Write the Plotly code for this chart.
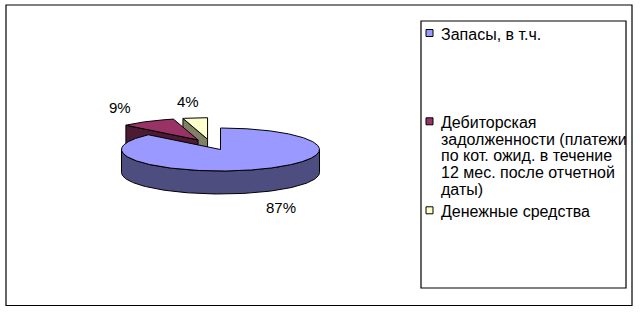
import numpy as np
import plotly.graph_objects as go

# ---------------- data ----------------
categories = [
    "Запасы, в т.ч.",
    "Дебиторская задолженности (платежи по кот. ожид. в течение 12 мес. после отчетной даты)",
    "Денежные средства",
]
legend_lines = [
    ["Запасы, в т.ч."],
    ["Дебиторская", "задолженности (платежи", "по кот. ожид. в течение",
     "12 мес. после отчетной", "даты)"],
    ["Денежные средства"],
]
values = [87, 9, 4]
top_colors = ["#9999FF", "#993366", "#FFFFCC"]
side_colors = ["#4D4D80", "#4D1A33", "#808066"]

# ---------------- layout geometry (pixels) ----------------
W, H = 640, 312
RX, RY = 99.0, 21.5
DEPTH = 23.0
EXPLODE = 0.25
MAIN_APEX = (220.5, 149.5)
FONT = "Arial, Liberation Sans"
LABEL_SIZE = 15
LEGEND_SIZE = 16

total = float(sum(values))
fracs = [v / total for v in values]
starts = np.concatenate([[0.0], np.cumsum(fracs)[:-1]]) * 360.0
ends = np.cumsum(fracs) * 360.0
mids = (starts + ends) / 2.0


def dirv(theta_deg):
    t = np.radians(theta_deg)
    return np.sin(t) * RX, -np.cos(t) * RY


# true centre derived so that the largest slice's apex sits at MAIN_APEX
dx0, dy0 = dirv(mids[0])
CX, CY = MAIN_APEX[0] - EXPLODE * dx0, MAIN_APEX[1] - EXPLODE * dy0

fig = go.Figure()


def poly(xs, ys, fill):
    fig.add_trace(go.Scatter(
        x=list(xs) + [xs[0]], y=list(ys) + [ys[0]], mode="lines",
        fill="toself", fillcolor=fill,
        line=dict(color="black", width=1), hoverinfo="skip", showlegend=False))


slices = []
for i in range(len(values)):
    ex, ey = dirv(mids[i])
    ax, ay = CX + EXPLODE * ex, CY + EXPLODE * ey
    slices.append((ay, i, ax))

for ay, i, ax in sorted(slices):
    t0, t1 = starts[i], ends[i]
    # start radial face
    if np.sin(np.radians(t0)) < -1e-9:
        rx, ry = dirv(t0)
        poly([ax, ax + rx, ax + rx, ax], [ay, ay + ry, ay + ry + DEPTH, ay + DEPTH], side_colors[i])
    # end radial face
    if np.sin(np.radians(t1)) > 1e-9:
        rx, ry = dirv(t1)
        poly([ax, ax + rx, ax + rx, ax], [ay, ay + ry, ay + ry + DEPTH, ay + DEPTH], side_colors[i])
    # outer wall (front half only)
    a, b = max(t0, 90.0), min(t1, 270.0)
    if b > a:
        th = np.linspace(a, b, 120)
        px = ax + np.sin(np.radians(th)) * RX
        py = ay - np.cos(np.radians(th)) * RY
        poly(np.concatenate([px, px[::-1]]), np.concatenate([py, py[::-1] + DEPTH]), side_colors[i])
    # top face
    th = np.linspace(t0, t1, max(8, int((t1 - t0) * 2)))
    px = ax + np.sin(np.radians(th)) * RX
    py = ay - np.cos(np.radians(th)) * RY
    poly(np.concatenate([[ax], px]), np.concatenate([[ay], py]), top_colors[i])
    # percentage label
    lx, ly = dirv(mids[i])
    tx = ax + lx * 1.55
    ty = ay + ly * 1.75 + (DEPTH if np.cos(np.radians(mids[i])) < 0 else 0)
    fig.add_annotation(x=tx, y=ty, text=f"{round(fracs[i] * 100)}%", showarrow=False,
                       xanchor="center", yanchor="middle",
                       font=dict(family=FONT, size=LABEL_SIZE, color="black"))

# ---------------- legend (drawn) ----------------
LEG_BOX = (421, 21, 626, 288)
entry_y = [34, 122.3, 211.3]
LINE_STEP = 16.75
MARK = 7
TEXT_X = 439

for i, lines in enumerate(legend_lines):
    y0 = entry_y[i]
    fig.add_shape(type="rect", x0=426, x1=426 + MARK, y0=y0 - MARK / 2 - 1, y1=y0 + MARK / 2 - 1,
                  line=dict(color="black", width=1), fillcolor=top_colors[i])
    for k, ln in enumerate(lines):
        fig.add_annotation(x=TEXT_X, y=y0 + k * LINE_STEP, text=ln, showarrow=False,
                           xanchor="left", yanchor="middle",
                           font=dict(family=FONT, size=LEGEND_SIZE, color="black"))

fig.add_shape(type="rect", x0=LEG_BOX[0], y0=LEG_BOX[1], x1=LEG_BOX[2], y1=LEG_BOX[3],
              line=dict(color="black", width=1.2), fillcolor="rgba(0,0,0,0)")
fig.add_shape(type="rect", x0=6, y0=5, x1=632, y1=305.5,
              line=dict(color="black", width=1.2), fillcolor="rgba(0,0,0,0)", layer="below")

fig.update_layout(
    width=W, height=H, autosize=False,
    margin=dict(l=0, r=0, t=0, b=0),
    paper_bgcolor="white", plot_bgcolor="white",
    showlegend=False,
    xaxis=dict(range=[0, W], visible=False, fixedrange=True),
    yaxis=dict(range=[H, 0], visible=False, fixedrange=True),
)

fig.write_html("out.html")
